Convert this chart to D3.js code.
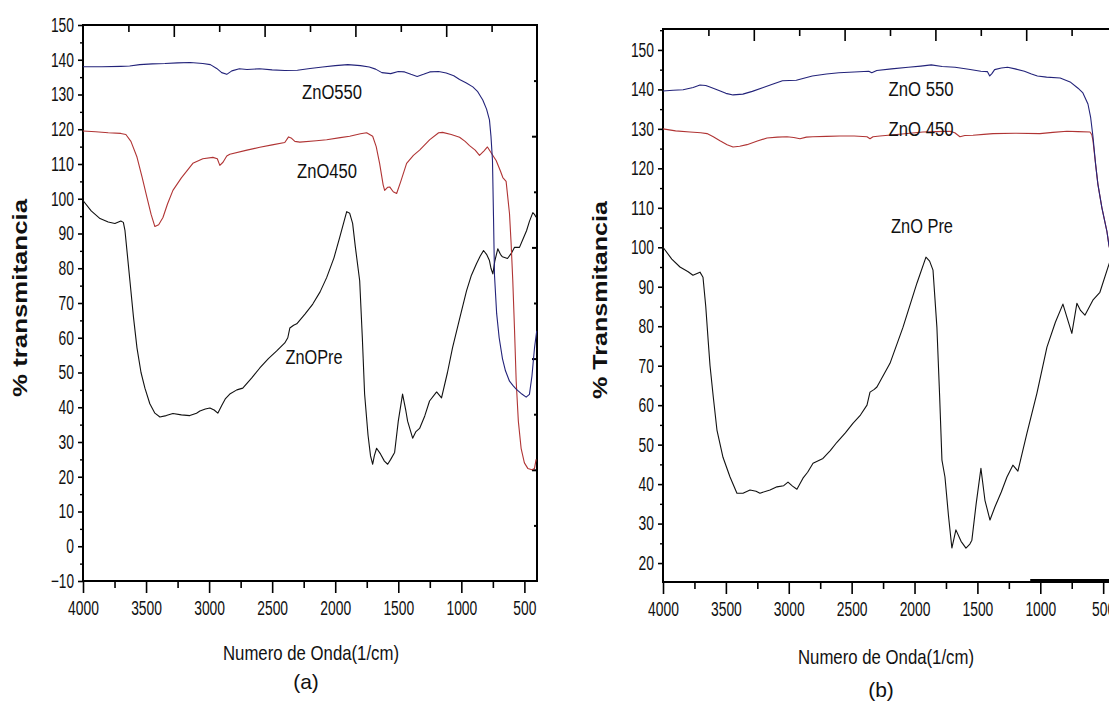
<!DOCTYPE html>
<html>
<head>
<meta charset="utf-8">
<script src="https://cdnjs.cloudflare.com/ajax/libs/d3/7.8.5/d3.min.js"></script>
<style>
  body { margin: 0; background: #fff; }
  svg text { font-family: "Liberation Sans Narrow", "Arial Narrow", "Liberation Sans", Arial, sans-serif; fill: #111; }
  .title { font-family: "Liberation Sans", Arial, sans-serif; }
</style>
</head>
<body>
<div id="graph"></div>
<script>
let w = 1109;
let h = 702;

// panel (a) series: [wavenumber, % transmitancia]
let zno550a = [[4000,138],[3850,138],[3700,138.1],[3630,138.2],[3550,138.6],[3450,138.8],[3350,138.9],[3250,139.1],[3150,139.2],[3050,138.9],[2990,138.6],[2940,137.5],[2900,136.3],[2860,135.8],[2820,136.8],[2760,137.4],[2700,137.2],[2600,137.4],[2500,137.1],[2400,136.9],[2300,137],[2200,137.5],[2100,137.9],[2000,138.3],[1900,138.6],[1800,138.3],[1730,137.9],[1680,137.3],[1630,136.3],[1560,136],[1500,136.6],[1450,136.5],[1400,135.8],[1350,135.2],[1300,135.8],[1250,136.5],[1180,136.6],[1120,136.2],[1060,135.4],[1014,134.3],[960,133.3],[909,132.2],[870,130.8],[830,128.4],[800,125.8],[777,122.7],[765,118],[753,111],[745,95],[737,78],[720,67],[700,60],[674,54],[650,50.5],[618,47.5],[590,46.2],[565,45.2],[520,43.8],[486,42.9],[460,43.7],[440,49],[420,57],[402,62]];
let zno450a = [[4000,119.5],[3900,119.3],[3800,119],[3700,118.8],[3660,118.5],[3620,116.5],[3572,112],[3530,106],[3493,100.4],[3460,95.5],[3430,92],[3400,92.5],[3366,94.6],[3330,98.5],[3287,102.4],[3220,106],[3129,110.2],[3050,111.5],[2970,111.9],[2935,111.5],[2915,109.6],[2890,110.5],[2860,112.3],[2836,112.8],[2700,114],[2598,114.8],[2500,115.5],[2400,116.2],[2370,117.8],[2350,117.5],[2320,116.5],[2281,116.3],[2150,116.7],[2068,117],[1960,117.6],[1885,118],[1800,118.7],[1751,119],[1703,118],[1675,115],[1648,110.2],[1620,104],[1608,102.4],[1585,103.3],[1568,103.4],[1540,102],[1513,101.5],[1480,105],[1434,110.2],[1380,112.5],[1331,114],[1250,117],[1180,119],[1149,119.1],[1080,118.5],[1014,117.7],[970,116.5],[935,115.3],[890,114],[856,112.5],[820,113.8],[793,114.9],[760,113],[724,111],[690,108],[671,106.1],[645,105],[618,95.7],[605,87],[592,76.4],[578,62],[565,47.5],[548,36],[526,28.2],[500,24],[473,22.4],[440,22],[420,22.4],[407,25]];
let znoprea = [[4000,99.5],[3935,96.5],[3865,94.3],[3800,93.3],[3747,92.9],[3700,93.6],[3680,93.2],[3667,90.8],[3628,76.4],[3600,66],[3572,57.1],[3540,50],[3509,45.5],[3470,41],[3430,38.3],[3390,37.2],[3340,37.6],[3287,38.2],[3220,37.8],[3153,37.6],[3100,38.3],[3073,38.9],[3030,39.5],[2994,39.8],[2960,39.2],[2931,38.3],[2900,40.5],[2870,42.5],[2836,43.8],[2780,45],[2733,45.5],[2660,48.5],[2598,51.3],[2530,54],[2464,56.2],[2400,58.5],[2376,60],[2360,62.8],[2330,63.6],[2305,64],[2240,66.8],[2178,69.7],[2120,73.2],[2068,77.3],[2010,83],[1965,88.8],[1930,93.5],[1909,96.3],[1885,95.8],[1862,92.9],[1840,86],[1806,76.4],[1785,60],[1767,43.8],[1740,32],[1720,26],[1703,23.6],[1690,26],[1672,28.2],[1640,26.5],[1610,24.5],[1584,23.6],[1560,25],[1529,27],[1500,36],[1466,43.8],[1440,39],[1426,36],[1386,31.1],[1360,33],[1331,33.9],[1290,37.5],[1252,41.8],[1196,44.4],[1157,42.7],[1110,50],[1070,57.1],[1010,66],[959,73.5],[920,78],[880,81.3],[850,83.5],[824,85.1],[800,84],[777,82.2],[765,80],[750,78.4],[735,82],[711,85.6],[690,84],[674,83.3],[634,82.8],[600,84.5],[579,86],[539,86],[510,88.5],[483,90.8],[460,93.5],[433,96],[420,95.5],[407,94.7]];

// panel (b) series
let zno550b = [[4000,139.6],[3920,139.8],[3840,139.9],[3760,140.5],[3706,141.1],[3660,141],[3627,140.6],[3560,139.8],[3500,139],[3443,138.6],[3365,138.8],[3290,139.5],[3208,140.4],[3130,141.3],[3050,142.2],[2940,142.3],[2880,142.8],[2813,143.4],[2700,143.9],[2601,144.2],[2480,144.4],[2364,144.6],[2340,144.2],[2300,144.8],[2183,145.2],[2050,145.6],[1950,145.9],[1867,146.2],[1780,145.8],[1678,145.6],[1570,145.1],[1473,144.6],[1420,144.5],[1402,143.4],[1385,144],[1363,145],[1310,145.4],[1260,145.6],[1200,145.2],[1126,144.6],[1070,143.9],[1023,143.4],[950,143.1],[842,142.9],[763,141.9],[700,140.3],[661,139.1],[621,136.3],[600,133],[581,128],[560,121],[542,116],[510,110],[470,104],[454,100.5],[440,98.5]];
let zno450b = [[4000,130],[3900,129.5],[3785,129.2],[3700,129],[3650,128.8],[3600,128],[3547,127],[3490,126],[3443,125.4],[3390,125.6],[3332,126],[3250,126.9],[3173,127.7],[3090,127.9],[3014,128],[2960,127.8],[2911,127.5],[2860,127.9],[2808,128],[2700,128.1],[2593,128.2],[2480,128.2],[2378,128],[2354,127.5],[2330,128],[2275,128.2],[2100,128.7],[1933,129.2],[1830,129.3],[1718,129.4],[1680,129],[1639,128],[1600,128.3],[1535,128.4],[1450,128.6],[1376,128.8],[1200,128.9],[1003,128.8],[900,129.1],[788,129.4],[700,129.3],[605,129.2],[590,128.5],[581,127],[560,121],[542,116],[510,110],[470,104],[454,100.5],[440,98.5]];
let zno_preb = [[4000,100],[3930,97],[3865,95],[3800,93.8],[3762,92.9],[3706,93.7],[3682,92.4],[3660,85],[3640,76],[3626,70],[3600,62],[3571,53.7],[3523,46.8],[3467,41.8],[3412,37.7],[3364,37.7],[3308,38.5],[3260,38.2],[3229,37.7],[3149,38.5],[3094,39.3],[3040,39.6],[3006,40.5],[2970,39.5],[2935,38.7],[2887,41.5],[2850,43],[2807,45.3],[2728,46.5],[2670,48.5],[2617,50.6],[2550,53],[2490,55.4],[2430,57.5],[2378,60],[2354,63.3],[2320,64],[2299,64.6],[2195,70.6],[2092,79.7],[1981,90.9],[1909,97.5],[1880,96.5],[1853,94.2],[1822,79.7],[1800,62],[1782,46.1],[1758,41.8],[1730,32],[1703,23.8],[1671,28.4],[1630,25.5],[1591,23.8],[1560,24.8],[1544,25.8],[1510,35],[1472,44],[1440,35.9],[1400,30.9],[1361,34.2],[1310,38],[1265,41.8],[1218,44.8],[1178,43.3],[1106,52.9],[1027,63],[947,74.7],[880,81],[820,85.6],[749,78.2],[709,85.8],[680,84],[645,82.8],[582,86.6],[526,88.6],[462,94.9],[440,97]];

// tick labels
let xTicks = [4000, 3500, 3000, 2500, 2000, 1500, 1000, 500];
let xMinor = [3750, 3250, 2750, 2250, 1750, 1250, 750];
let yTicksA = d3.range(-10, 151, 10);
let yTicksB = d3.range(20, 151, 10);

let blue = "#23237a";
let red = "#b03434";

let viz = d3.select("#graph").append("svg")
  .attr("width", w)
  .attr("height", h);

function fixTickText(sel){
  sel.selectAll(".tick text")
    .style("font-size", "20px")
    .attr("fill", "#111")
    .attr("textLength", function(){
      let s = d3.select(this).text();
      let len = 0;
      for (let c of s) len += (c == "-") ? 4.5 : 7.7;
      return len;
    })
    .attr("lengthAdjust", "spacingAndGlyphs");
}

function drawPanel(cfg){
  let xScale = d3.scaleLinear().domain(cfg.xDomain).range([cfg.left, cfg.right]);
  let yScale = d3.scaleLinear().domain(cfg.yDomain).range([cfg.bottom, cfg.top]);
  let g = viz.append("g").attr("class", "panel");

  // left axis
  let yAxis = d3.axisLeft(yScale).tickValues(cfg.yTicks).tickSize(5).tickPadding(4).tickFormat(d3.format("d"));
  let yAxisGroup = g.append("g").attr("transform", "translate(" + cfg.left + ",0)").call(yAxis);
  yAxisGroup.select(".domain").remove();
  yAxisGroup.selectAll("line").attr("stroke-width", 1.6);
  fixTickText(yAxisGroup);
  let yMinorAxis = d3.axisLeft(yScale).tickValues(cfg.yTicks.map(d => d + 5).filter(d => d < cfg.yDomain[1]).concat(cfg.yTicks[0] - 5 > cfg.yDomain[0] ? [cfg.yTicks[0] - 5] : []))
    .tickSize(3).tickFormat("");
  let yMinorGroup = g.append("g").attr("transform", "translate(" + cfg.left + ",0)").call(yMinorAxis);
  yMinorGroup.select(".domain").remove();
  yMinorGroup.selectAll("line").attr("stroke-width", 1.4);

  // bottom axis
  let xAxis = d3.axisBottom(xScale).tickValues(xTicks).tickSize(12).tickPadding(8).tickFormat(d3.format("d"));
  let xAxisGroup = g.append("g").attr("transform", "translate(0," + cfg.bottom + ")").call(xAxis);
  xAxisGroup.select(".domain").remove();
  xAxisGroup.selectAll("line").attr("stroke-width", 1.6);
  fixTickText(xAxisGroup);
  let xMinorAxis = d3.axisBottom(xScale).tickValues(xMinor).tickSize(7).tickFormat("");
  let xMinorGroup = g.append("g").attr("transform", "translate(0," + cfg.bottom + ")").call(xMinorAxis);
  xMinorGroup.select(".domain").remove();
  xMinorGroup.selectAll("line").attr("stroke-width", 1.6);

  // top axis: ticks pointing into the plot
  let topScale = d3.scaleLinear().domain([0, 10]).range([cfg.left, cfg.left + (cfg.right - cfg.left)]);
  [[2, 4, 6, 8], [1, 3, 5, 7, 9]].forEach(function(vals, i){
    let ax = d3.axisBottom(topScale).tickValues(vals).tickSize(i == 0 ? 12 : 7).tickFormat("");
    let gr = g.append("g").attr("transform", "translate(0," + cfg.top + ")").call(ax);
    gr.select(".domain").remove();
    gr.selectAll("line").attr("stroke-width", 1.6);
  });

  // right axis ticks, also inward
  if (cfg.rightTicks) {
    let rightScale = d3.scaleLinear().domain([0, 10]).range([cfg.bottom, cfg.top]);
    [[2, 4, 6, 8], [1, 3, 5, 7, 9]].forEach(function(vals, i){
      let ax = d3.axisLeft(rightScale).tickValues(vals).tickSize(i == 0 ? 5 : 3).tickFormat("");
      let gr = g.append("g").attr("transform", "translate(" + cfg.right + ",0)").call(ax);
      gr.select(".domain").remove();
      gr.selectAll("line").attr("stroke-width", 2);
    });
  }

  // frame
  g.append("rect")
    .attr("x", cfg.left).attr("y", cfg.top)
    .attr("width", cfg.right - cfg.left).attr("height", cfg.bottom - cfg.top)
    .attr("fill", "none").attr("stroke", "#000").attr("stroke-width", 2);

  // spectra
  let line = d3.line()
    .x(d => xScale(d[0]))
    .y(d => yScale(d[1]));
  cfg.series.forEach(function(s){
    g.append("path")
      .datum(s.data)
      .attr("d", line)
      .attr("fill", "none")
      .attr("stroke", s.color)
      .attr("stroke-width", 1.1)
      .attr("stroke-linejoin", "round");
  });

  // curve labels
  cfg.labels.forEach(function(l){
    g.append("text")
      .attr("x", l.x).attr("y", l.y)
      .attr("text-anchor", "middle")
      .style("font-size", "20px")
      .attr("textLength", l.len)
      .attr("lengthAdjust", "spacingAndGlyphs")
      .text(l.text);
  });

  // axis titles
  g.append("text")
    .attr("class", "title")
    .attr("transform", "translate(" + cfg.yTitleX + "," + cfg.yTitleY + ") rotate(-90)")
    .attr("text-anchor", "middle")
    .style("font-size", "21px")
    .style("font-weight", "bold")
    .attr("textLength", 198)
    .attr("lengthAdjust", "spacingAndGlyphs")
    .attr("fill", "#222")
    .text(cfg.yTitle);
  g.append("text")
    .attr("x", cfg.xTitleX).attr("y", cfg.xTitleY)
    .attr("text-anchor", "middle")
    .style("font-size", "21px")
    .attr("textLength", 176)
    .attr("lengthAdjust", "spacingAndGlyphs")
    .text("Numero de Onda(1/cm)");
  g.append("text")
    .attr("x", cfg.capX).attr("y", cfg.capY)
    .attr("text-anchor", "middle")
    .style("font-size", "21px")
    .text(cfg.caption);

  return {xScale: xScale, yScale: yScale, g: g};
}

drawPanel({
  left: 83, right: 537, top: 25, bottom: 581,
  xDomain: [4000, 400], yDomain: [-10, 150],
  yTicks: yTicksA, rightTicks: true,
  series: [
    {data: znoprea, color: "#111"},
    {data: zno450a, color: red},
    {data: zno550a, color: blue}
  ],
  labels: [
    {text: "ZnO550", x: 332, y: 99, len: 60},
    {text: "ZnO450", x: 327, y: 178, len: 60},
    {text: "ZnOPre", x: 314, y: 364, len: 57}
  ],
  yTitle: "% transmitancia", yTitleX: 27, yTitleY: 298,
  xTitleX: 311, xTitleY: 660, caption: "(a)", capX: 306, capY: 689
});

let pb = drawPanel({
  left: 663, right: 1117, top: 29, bottom: 582,
  xDomain: [4000, 390], yDomain: [15.2, 155.3],
  yTicks: yTicksB, rightTicks: false,
  series: [
    {data: zno_preb, color: "#111"},
    {data: zno450b, color: red},
    {data: zno550b, color: blue}
  ],
  labels: [
    {text: "ZnO 550", x: 921, y: 96, len: 65},
    {text: "ZnO 450", x: 921, y: 136, len: 65},
    {text: "ZnO Pre", x: 922, y: 233, len: 62}
  ],
  yTitle: "% Transmitancia", yTitleX: 607, yTitleY: 300,
  xTitleX: 886, xTitleY: 664, caption: "(b)", capX: 881, capY: 697
});

// thicker stretch drawn on the bottom axis of panel (b)
pb.g.append("line")
  .attr("x1", pb.xScale(1080)).attr("x2", pb.xScale(390))
  .attr("y1", pb.yScale(15.2) - 1.5).attr("y2", pb.yScale(15.2) - 1.5)
  .attr("stroke", "#000").attr("stroke-width", 3);
</script>
</body>
</html>
